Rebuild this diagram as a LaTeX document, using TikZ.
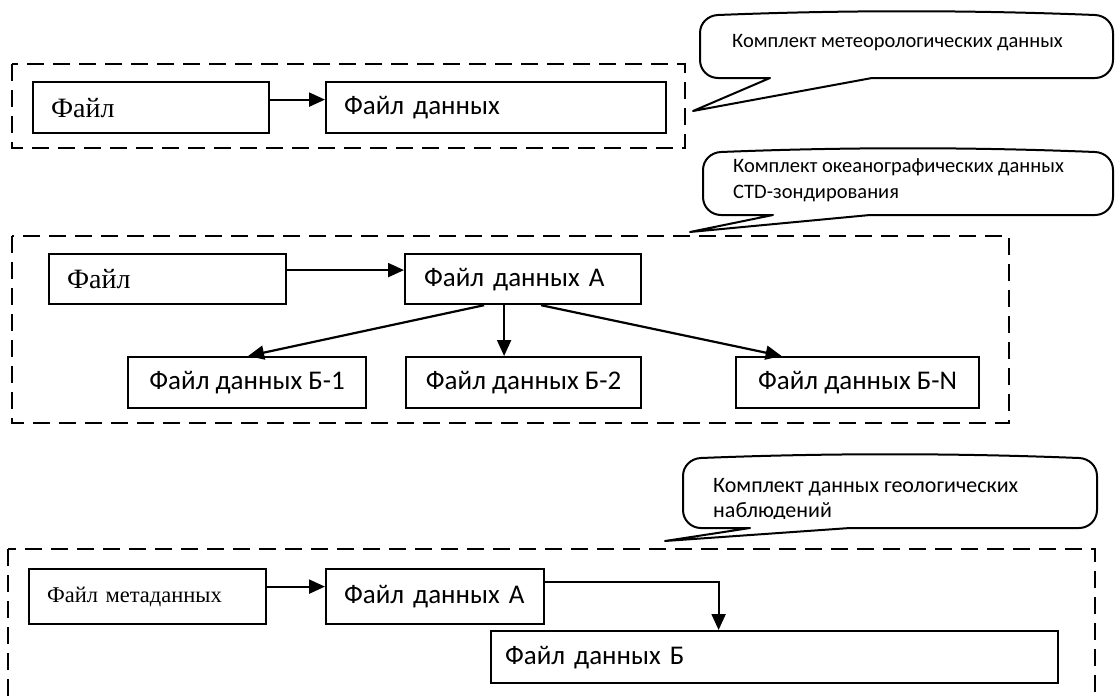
\documentclass[tikz,border=0pt]{standalone}
\usepackage{fontspec}
\setmainfont{Carlito}
\newfontfamily\tnr{Liberation Serif}
\usetikzlibrary{arrows.meta}
% #1 left, #2 top, #3 right, #4 bottom, #5 #6 pointer base, #7 #8 pointer tip
\newcommand\mycallout[8]{%
 \filldraw[callout] ({#1+18},#2)
   .. controls ({#1+18+(#3-#1-36)/3},{#2-5}) and ({#3-18-(#3-#1-36)/3},{#2-5}) .. ({#3-18},#2)
   .. controls ({#3-8},{#2+0.4}) and (#3,{#2+8}) .. (#3,{#2+18})
   -- (#3,{#4-18})
   .. controls (#3,{#4-8}) and ({#3-8},#4) .. ({#3-18},#4)
   -- (#6,#4) -- (#7,#8) -- (#5,#4) -- ({#1+18},#4)
   .. controls ({#1+8},#4) and (#1,{#4-8}) .. (#1,{#4-18})
   -- (#1,{#2+18})
   .. controls (#1,{#2+8}) and ({#1+8},{#2+0.4}) .. ({#1+18},#2) -- cycle;}
\begin{document}
\begin{tikzpicture}[x=1pt,y=-1pt,
  box/.style={draw, line width=2.2pt, inner ysep=0pt, inner xsep=18pt, anchor=north west, align=left, font=\fontsize{27}{32}\selectfont},
  cbox/.style={draw, line width=2.2pt, inner sep=0pt, anchor=north west, align=center, font=\fontsize{27}{32}\selectfont},
  serif/.style={font=\tnr\fontsize{28}{32}\selectfont},
  grp/.style={draw, line width=2.5pt, dash pattern=on 17pt off 9pt},
  arr/.style={line width=2.2pt, -{Triangle[length=16pt,width=14pt]}},
  callout/.style={draw=black, line width=2pt, fill=white, line join=round},
  ctext/.style={anchor=west, font=\fontsize{20.5}{26}\selectfont, align=left, inner sep=0pt}
]
\clip (0,0) rectangle (1116,696);
\fill[white] (0,0) rectangle (1116,696);

% ---- group 1
\draw[grp] (12,64) rectangle (685,148);
\node[box, serif, minimum width=236pt, minimum height=51pt, text width=200pt] (f1) at (32,81) {Файл};
\node[box, minimum width=340pt, minimum height=51pt, text width=304pt] (d1) at (325,81) {Файл данных};
\draw[arr] ([yshift=8pt]f1.east) -- ([yshift=8pt]d1.west);
\mycallout{700}{15}{1113}{78}{770}{872}{693}{111}
\node[ctext] (c1) at (732,43) {Комплект метеорологических данных};

% ---- group 2
\draw[grp] (12,236) rectangle (1009,423);
\mycallout{703}{152}{1113}{215}{773}{870}{690}{232}
\node[ctext] (c2) at (733,180) {Комплект океанографических данных\\CTD-зондирования};
\node[box, serif, minimum width=237pt, minimum height=50pt, text width=201pt] (f2) at (48,253) {Файл};
\node[box, inner xsep=19pt, minimum width=236pt, minimum height=50pt, text width=198pt] (a2) at (404,253) {Файл данных А};
\node[cbox, minimum width=238pt, minimum height=51pt] (b1) at (127,356) {Файл данных Б-1};
\node[cbox, minimum width=235pt, minimum height=51pt] (b2) at (405,356) {Файл данных Б-2};
\node[cbox, minimum width=243pt, minimum height=51pt] (bn) at (735,356) {Файл данных Б-N};
\draw[arr] ([yshift=9pt]f2.east) -- ([yshift=9pt]a2.west);
\draw[arr] ([xshift=-39pt]a2.south) -- ([xshift=1pt]b1.north);
\draw[arr] ([xshift=-19pt]a2.south) -- ([xshift=-19.5pt]b2.north);
\draw[arr] ([xshift=18pt]a2.south) -- ([xshift=-76pt]bn.north);

% ---- group 3
\draw[grp] (8,549) rectangle (1095,740);
\mycallout{683}{458}{1097}{528}{750}{850}{665}{541}
\begin{scope}
\clip (690,465) rectangle (1090,518);
\node[ctext, font=\fontsize{22}{25}\selectfont] (c3) at (713,500) {Комплект данных геологических\\наблюдений};
\end{scope}
\node[box, font=\tnr\fontsize{22.5}{28}\selectfont, minimum width=237pt, minimum height=55pt, text width=201pt] (m3) at (28,568) {Файл метаданных};
\node[box, minimum width=218pt, minimum height=55pt, text width=182pt] (a3) at (325,568) {Файл данных А};
\node[box, inner xsep=14pt, minimum width=567pt, minimum height=52pt, text width=539pt] (b3) at (490,630) {Файл данных Б};
\draw[arr] ([yshift=10pt]m3.east) -- ([yshift=10pt]a3.west);
\draw[arr] ([yshift=15pt]a3.east) -| ([xshift=-56pt]b3.north);
\end{tikzpicture}
\end{document}
